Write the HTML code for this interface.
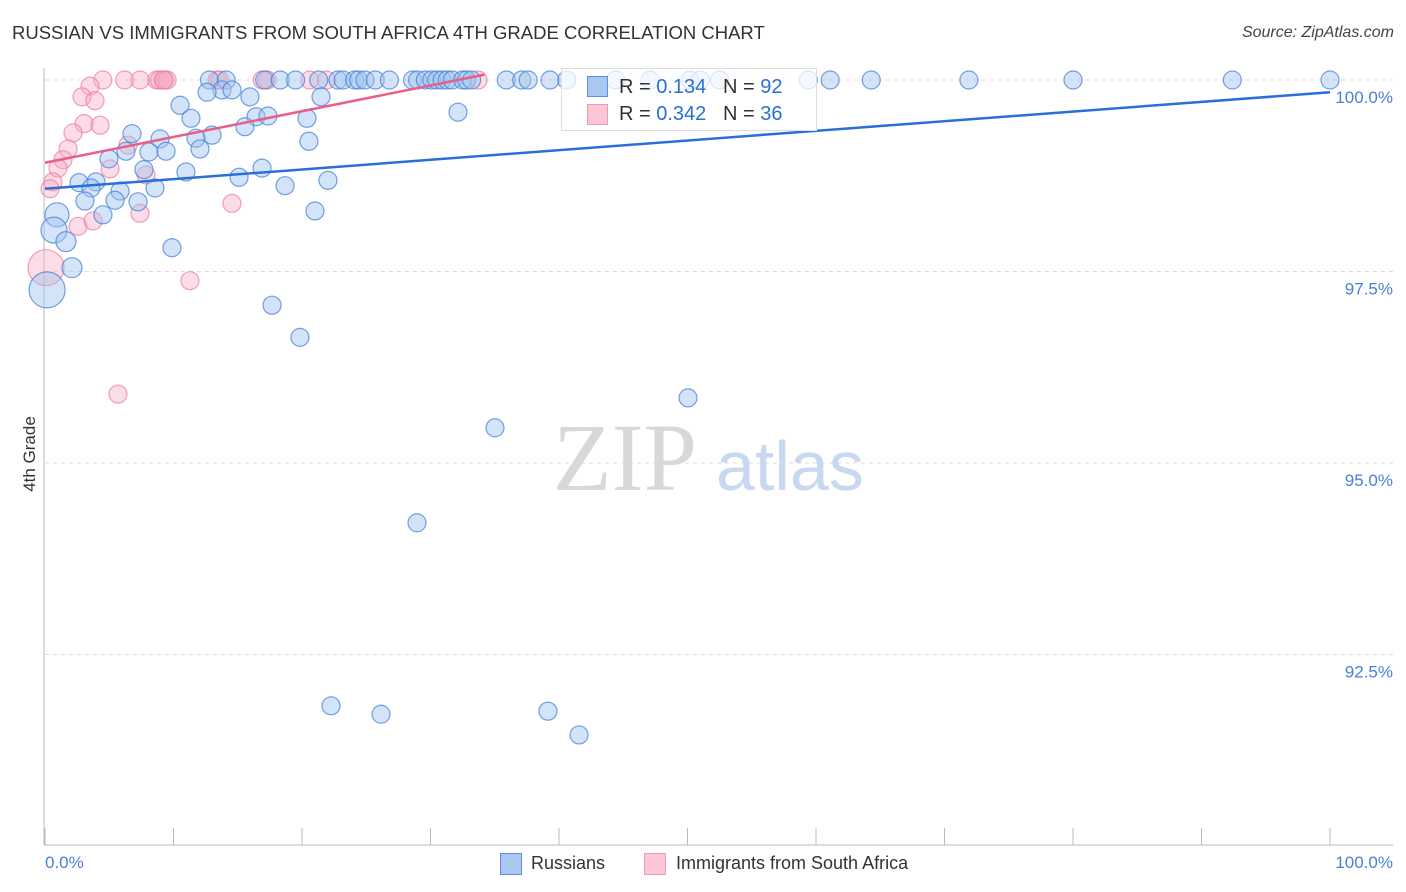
<!DOCTYPE html>
<html><head><meta charset="utf-8">
<style>
body{margin:0;background:#fff;font-family:"Liberation Sans",sans-serif;}
#wrap{position:relative;width:1406px;height:892px;overflow:hidden;}
.t{position:absolute;white-space:nowrap;}
</style></head><body>
<div id="wrap">
<div class="t" style="left:12px;top:22px;font-size:18.5px;color:#333;">RUSSIAN VS IMMIGRANTS FROM SOUTH AFRICA 4TH GRADE CORRELATION CHART</div>
<div class="t" style="right:12px;top:24px;font-size:16px;color:#444;font-style:italic;">Source: ZipAtlas.com</div>
<svg id="svg" width="1406" height="892" style="position:absolute;left:0;top:0"></svg>
</div>
<script>
const yTicks=[100,97.5,95,92.5];
const yTickLabels=["100.0%","97.5%","95.0%","92.5%"];
const blueX=[12.8,14.1,17.1,18.3,19.5,21.3,22.8,23.2,24.1,24.4,24.9,25.7,26.8,28.6,29,29.6,30.1,30.5,30.9,31.3,31.7,32.5,32.8,33.2,35.9,37.1,37.6,39.3,40.6,44.4,47.1,50.2,51,52.5,59.4,61.1,64.3,71.9,80,92.4,100,
13.77,14.55,12.61,15.95,21.48,10.51,32.14,11.36,16.42,17.35,20.39,15.56,6.77,8.95,13.0,11.75,6.30,8.09,9.42,12.06,20.54,4.98,7.70,10.97,16.89,15.10,2.65,3.97,22.02,3.58,18.68,5.84,8.56,3.11,7.24,5.45,4.51,21.01,0.93,0.70,1.63,9.88,2.10,0.16,17.67,19.84,50.04,35.02,28.95,22.26,26.15,39.14,41.56];
const blueY=[100,100,100,100,100,100,100,100,100,100,100,100,100,100,100,100,100,100,100,100,100,100,100,100,100,100,100,100,100,100,100,100,100,100,100,100,100,100,100,100,100,
99.87,99.87,99.84,99.78,99.78,99.67,99.58,99.50,99.52,99.53,99.50,99.39,99.30,99.23,99.28,99.24,99.07,99.06,99.07,99.10,99.20,98.97,98.83,98.80,98.85,98.73,98.66,98.67,98.69,98.59,98.62,98.55,98.59,98.42,98.41,98.43,98.24,98.29,98.24,98.04,97.89,97.81,97.55,97.26,97.06,96.64,95.85,95.46,94.22,91.83,91.72,91.76,91.45];
const blueBig={"38":12,"39":13,"40":10,"42":10,"43":18};
const pinkX=[4.5,6.2,7.4,8.7,8.9,9.3,9.5,13.4,13.6,16.9,17.3,20.6,21.9,33.7,9.2,
3.50,2.88,3.89,3.04,4.28,2.18,1.79,6.46,1.40,1.01,5.06,7.86,0.62,0.39,2.57,3.74,7.39,14.55,11.28,5.68,0.08];
const pinkY=[100,100,100,100,100,100,100,100,100,100,100,100,100,100,100,
99.92,99.78,99.73,99.43,99.41,99.31,99.10,99.15,98.96,98.85,98.84,98.76,98.67,98.58,98.09,98.16,98.26,98.39,97.38,95.90,97.55];
const pinkBig={"20":18};
const blueTrend=[98.58,99.84];
const pinkTrend=[98.92,100.07];
const pinkTrendEnd=34.2;
const X=v=>45+v*12.85, Y=v=>80+(100-v)*76.6;
const svg=document.getElementById('svg');const NS='http://www.w3.org/2000/svg';
function mk(t,a){const e=document.createElementNS(NS,t);for(const k in a)e.setAttribute(k,a[k]);svg.appendChild(e);return e;}
yTicks.forEach((v,i)=>{
const g=mk('line',{x1:45,x2:1393,y1:Y(v),y2:Y(v),stroke:'#ddd','stroke-dasharray':'4,4'});


const t=mk('text',{x:1393,y:Y(v)+23,'text-anchor':'end','font-size':17,fill:'#4a7fd8','font-family':'Liberation Sans'});t.textContent=yTickLabels[i];


});
const ax=mk('line',{x1:44,x2:44,y1:68,y2:845,stroke:'#bbb'});


const bx=mk('line',{x1:44,x2:1393,y1:845,y2:845,stroke:'#bbb'});


for(let i=0;i<=10;i++){const l=mk('line',{x1:X(i*10),x2:X(i*10),y1:828,y2:845,stroke:'#bbb'});

}
const w1=mk('text',{x:553,y:490,'font-size':96,fill:'#d8d8d8','font-family':'Liberation Serif'});w1.textContent='ZIP';


const w2=mk('text',{x:716,y:490,'font-size':70,fill:'#c8d8f0','font-family':'Liberation Sans'});w2.textContent='atlas';


pinkX.forEach((v,i)=>{const r=(i>=15&&pinkBig[i-15])||9;const c=mk('circle',{cx:X(v),cy:Y(pinkY[i]),r:r,fill:'rgba(248,170,195,0.4)',stroke:'rgba(236,120,155,0.7)','stroke-width':1.2});

});
blueX.forEach((v,i)=>{const r=(i>=41&&blueBig[i-41])||9;const c=mk('circle',{cx:X(v),cy:Y(blueY[i]),r:r,fill:'rgba(160,195,240,0.45)',stroke:'rgba(70,130,215,0.75)','stroke-width':1.2});

});
const bl=mk('line',{x1:X(0),x2:X(100),y1:Y(blueTrend[0]),y2:Y(blueTrend[1]),stroke:'#2a6fd6','stroke-width':2.5});


const pl=mk('line',{x1:X(0),x2:X(pinkTrendEnd),y1:Y(pinkTrend[0]),y2:Y(pinkTrend[1]),stroke:'#e8608a','stroke-width':2.5});


</script>
<div class="t" style="left:561px;top:68px;width:254px;height:61px;border:1px solid #ddd;background:rgba(255,255,255,0.75);"></div>
<div class="t" style="left:587px;top:76px;width:19px;height:19px;background:#a9c7f0;border:1px solid #5a90dc;"></div>
<div class="t" style="left:587px;top:104px;width:19px;height:19px;background:#fbc6d5;border:1px solid #ee9ab4;"></div>
<div class="t" style="left:619px;top:76px;font-size:20px;color:#333;">R = <span style="color:#2a6fd6">0.134</span>&nbsp;&nbsp;&nbsp;N = <span style="color:#2a6fd6">92</span></div>
<div class="t" style="left:619px;top:103px;font-size:20px;color:#333;">R = <span style="color:#2a6fd6">0.342</span>&nbsp;&nbsp;&nbsp;N = <span style="color:#2a6fd6">36</span></div>
<div class="t" style="left:-8px;top:444px;font-size:17px;color:#333;transform:rotate(-90deg);">4th Grade</div>
<div class="t" style="left:45px;top:853px;font-size:17px;color:#4a7fd8;">0.0%</div>
<div class="t" style="right:13px;top:853px;font-size:17px;color:#4a7fd8;">100.0%</div>
<div class="t" style="left:500px;top:853px;width:20px;height:20px;background:#a9c7f0;border:1px solid #5a90dc;"></div>
<div class="t" style="left:531px;top:853px;font-size:18px;color:#333;">Russians</div>
<div class="t" style="left:644px;top:853px;width:20px;height:20px;background:#fbc6d5;border:1px solid #ee9ab4;"></div>
<div class="t" style="left:676px;top:853px;font-size:18px;color:#333;">Immigrants from South Africa</div>
</body></html>
